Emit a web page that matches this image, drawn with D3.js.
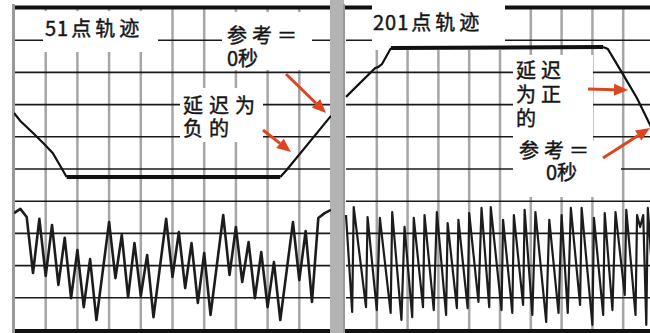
<!DOCTYPE html>
<html><head><meta charset="utf-8">
<script src="https://cdn.jsdelivr.net/npm/d3@7"></script>
<style>body{margin:0;background:#fff}svg{display:block}</style>
</head><body><svg id="c" width="650" height="333"></svg>
<script>
// ---------- data (grid divisions: 0 = bottom, 10 = top) ----------
const gridDivisions = d3.range(0, 11);
const leftTitle = ["51", "点轨迹"];
const rightTitle = ["201", "点轨迹"];
const leftPoints = 51;
const rightPoints = 201;

// left phase trace (point index, division value)
const leftPhaseIdx = [0, 1, 3, 4.6, 6.1, 7.4, 8.3, 42, 43, 50];
const leftPhaseVal = [6.74, 6.49, 6.12, 5.81, 5.5, 5.06, 4.75, 4.75, 4.97, 6.65];

// left magnitude trace, 51 points
const leftMagVal = [3.63, 3.76, 3.51, 1.77, 3.45, 1.68, 3.26, 1.40, 2.86, 0.99,
  2.48, 0.71, 2.20, 0.31, 1.83, 3.35, 1.61, 2.95, 1.02, 2.70,
  1.06, 2.33, 0.40, 1.93, 3.45, 1.65, 3.04, 1.30, 2.70, 0.84,
  2.39, 0.47, 2.02, 3.57, 1.71, 3.20, 1.49, 2.73, 0.99, 2.42,
  0.71, 2.11, 0.31, 1.83, 3.35, 1.55, 3.07, 0.87, 3.48, 3.63, 3.73];

// right phase trace (point index, division value)
const rightPhaseIdx = [0, 19, 21, 23.4, 29.2, 167, 170, 179, 189, 200];
const rightPhaseVal = [7.24, 8.14, 8.17, 8.26, 8.76, 8.79, 8.73, 8.01, 7.20, 6.12];

// right magnitude trace vertices (point index, division value)
const rightMagIdx = [0, 4, 5, 13, 14, 20, 22, 29, 30, 36, 38, 43, 44, 50, 51, 57, 59, 65, 66, 72,
  73, 79, 80, 86, 88, 93, 94, 101, 102, 108, 109, 115, 116, 121, 123, 130, 132, 138, 140, 144,
  146, 152, 153, 160, 161, 167, 168, 173, 175, 181, 182, 188, 189, 191, 193, 195, 196, 200];
const rightMagVal = [3.57, 0.56, 3.82, 0.71, 3.51, 0.62, 3.48, 0.53, 3.66, 0.31, 3.20, 0.40, 3.48, 0.71, 3.57, 0.62, 3.66, 0.47, 3.32, 0.68,
  3.42, 0.68, 3.63, 0.87, 3.79, 0.71, 3.82, 0.62, 3.42, 0.53, 3.57, 0.78, 3.73, 0.47, 3.66, 0.25, 3.42, 0.53, 3.57, 0.53,
  3.79, 0.78, 3.79, 0.16, 3.48, 0.47, 3.63, 0.62, 3.66, 1.09, 3.73, 0.47, 3.57, 3.20, 3.57, 0.16, 3.79, 0.93];

// annotation texts (lines of each label)
const labelRefLeft = ["参考＝", "0秒"];
const labelNegative = ["延迟为", "负的"];
const labelPositive = ["延迟", "为正", "的"];
const labelRefRight = ["参考＝", "0秒"];

// ---------- drawing ----------
const svg = d3.select("#c");
const y = d3.scaleLinear().domain([0, 10]).range([330, 8]);
const xL = d3.scaleLinear().domain([0, leftPoints - 1]).range([14, 331]);
const xR = d3.scaleLinear().domain([0, rightPoints - 1]).range([346, 654]);
const FONT = "'Noto Sans CJK SC', 'Noto Sans', sans-serif";
const ARROW = "#dc4520";
const INK = "#151515";

svg.append("rect").attr("width", 650).attr("height", 333).attr("fill", "#fff");

const defs = svg.append("defs");
defs.append("clipPath").attr("id", "clipL").append("rect").attr("x", 14).attr("y", 0).attr("width", 317).attr("height", 333);
defs.append("clipPath").attr("id", "clipR").append("rect").attr("x", 345).attr("y", 0).attr("width", 310).attr("height", 333);

function panel(x) {
  const g = svg.append("g");
  const [x0, x1] = x.range();
  const dom = x.domain();
  g.selectAll("line.v").data(gridDivisions.slice(1, 10)).join("line")
    .attr("x1", d => x(dom[0] + (dom[1] - dom[0]) * d / 10))
    .attr("x2", d => x(dom[0] + (dom[1] - dom[0]) * d / 10))
    .attr("y1", y(10)).attr("y2", y(0))
    .attr("stroke", "#a6a6a6").attr("stroke-width", 2.5);
  g.selectAll("line.h").data(gridDivisions.slice(1, 10)).join("line")
    .attr("x1", x0).attr("x2", x1)
    .attr("y1", d => y(d)).attr("y2", d => y(d))
    .attr("stroke", "#1a1a1a").attr("stroke-width", 1.6);
  g.append("line").attr("x1", x0 - 1).attr("x2", x1).attr("y1", 7.5).attr("y2", 7.5)
    .attr("stroke", "#111").attr("stroke-width", 4);
  g.append("line").attr("x1", x0 - 1).attr("x2", x1).attr("y1", 331).attr("y2", 331)
    .attr("stroke", "#111").attr("stroke-width", 4);
  return g;
}
panel(xL);
panel(xR);

// gray frame bands
svg.append("rect").attr("x", 12).attr("y", 4).attr("width", 3).attr("height", 329).attr("fill", "#9a9a9a");
svg.append("rect").attr("x", 330).attr("y", 0).attr("width", 14).attr("height", 333).attr("fill", "#b3b3b3");
svg.append("rect").attr("x", 343).attr("y", 4).attr("width", 2).attr("height", 329).attr("fill", "#999");

// white label boxes
const boxes = [
  [43, 11, 115, 41],
  [372, 0, 133, 50],
  [222, 12, 90, 58],
  [180, 88, 83, 54],
  [513, 55, 80, 86],
  [513, 141, 108, 56]
];
svg.selectAll("rect.box").data(boxes).join("rect").attr("class", "box")
  .attr("x", d => d[0]).attr("y", d => d[1]).attr("width", d => d[2]).attr("height", d => d[3])
  .attr("fill", "#fff");

// traces
const line = (xs) => d3.line().x(d => xs(d[0])).y(d => y(d[1]));
const gL = svg.append("g").attr("clip-path", "url(#clipL)");
const gR = svg.append("g").attr("clip-path", "url(#clipR)");

const lp = leftPhaseIdx.map((d, i) => [d, leftPhaseVal[i]]);
gL.append("path").attr("d", line(xL)(lp.slice(0, 7))).attr("fill", "none").attr("stroke", "#111").attr("stroke-width", 2.2);
gL.append("path").attr("d", line(xL)(lp.slice(6, 8))).attr("fill", "none").attr("stroke", "#111").attr("stroke-width", 4);
gL.append("path").attr("d", line(xL)(lp.slice(7))).attr("fill", "none").attr("stroke", "#111").attr("stroke-width", 2.2);

gL.append("path").attr("d", line(xL)(leftMagVal.map((v, i) => [i, v])))
  .attr("fill", "none").attr("stroke", "#1c1c1c").attr("stroke-width", 2.6).attr("stroke-linejoin", "round");

const rp = rightPhaseIdx.map((d, i) => [d, rightPhaseVal[i]]);
gR.append("path").attr("d", line(xR)(rp.slice(0, 5))).attr("fill", "none").attr("stroke", "#111").attr("stroke-width", 2.2);
gR.append("path").attr("d", line(xR)(rp.slice(4, 6))).attr("fill", "none").attr("stroke", "#111").attr("stroke-width", 4);
gR.append("path").attr("d", line(xR)(rp.slice(5))).attr("fill", "none").attr("stroke", "#111").attr("stroke-width", 2.2);

gR.append("path").attr("d", line(xR)(rightMagIdx.map((d, i) => [d, rightMagVal[i]])))
  .attr("fill", "none").attr("stroke", "#1c1c1c").attr("stroke-width", 2.2).attr("stroke-linejoin", "round");

// titles: digits tight, CJK spaced
function title(parts, x, yb) {
  const t = svg.append("text").attr("x", x).attr("y", yb)
    .attr("font-family", FONT).attr("font-size", 20).attr("fill", INK)
    .attr("stroke", INK).attr("stroke-width", 0.45);
  t.append("tspan").attr("letter-spacing", 1).text(parts[0]);
  t.append("tspan").attr("letter-spacing", 4).attr("dx", 2).text(parts[1]);
}
title(leftTitle, 45, 36);
title(rightTitle, 373, 30);

// multi-line labels
function label(lines, xs, yb, lh, ls) {
  const t = svg.append("text").attr("y", yb)
    .attr("font-family", FONT).attr("font-size", 20).attr("fill", INK)
    .attr("stroke", INK).attr("stroke-width", 0.45);
  lines.forEach((s, i) => {
    t.append("tspan").attr("x", xs[i]).attr("dy", i === 0 ? 0 : lh)
      .attr("letter-spacing", /[0-9]/.test(s) ? 0 : ls).text(s);
  });
}
label(labelRefLeft, [227, 227], 43, 23, 5);
label(labelNegative, [183, 183], 113, 23, 6);
label(labelPositive, [516, 516, 516], 78, 24, 5);
label(labelRefRight, [519, 546], 158, 22, 5);

// arrows
const arrows = [
  [286, 74, 326, 113],
  [263, 130, 291, 152],
  [588, 89, 628, 90],
  [603, 158, 650, 128]
];
arrows.forEach(([x1, y1, x2, y2]) => {
  const ang = Math.atan2(y2 - y1, x2 - x1);
  const L = 14, W = 6;
  const bx = x2 - L * Math.cos(ang), by = y2 - L * Math.sin(ang);
  svg.append("line").attr("x1", x1).attr("y1", y1).attr("x2", bx).attr("y2", by)
    .attr("stroke", ARROW).attr("stroke-width", 3);
  const p1 = [bx + W * Math.sin(ang), by - W * Math.cos(ang)];
  const p2 = [bx - W * Math.sin(ang), by + W * Math.cos(ang)];
  svg.append("path").attr("d", `M${x2},${y2}L${p1[0]},${p1[1]}L${p2[0]},${p2[1]}Z`).attr("fill", ARROW);
});
</script></body></html>
